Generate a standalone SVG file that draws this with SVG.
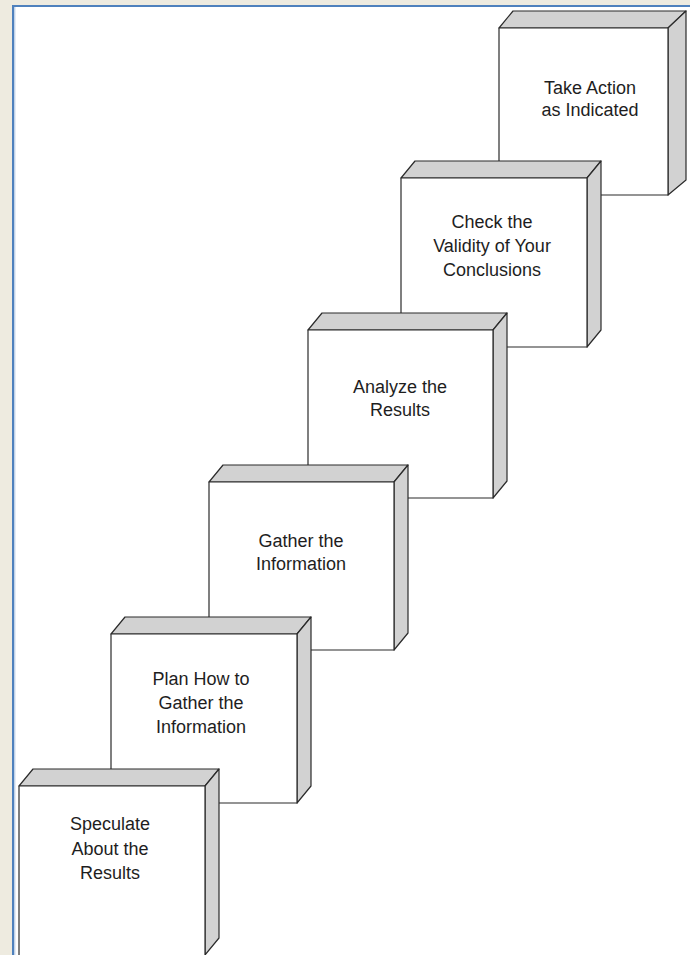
<svg xmlns="http://www.w3.org/2000/svg" width="690" height="955" viewBox="0 0 690 955">
  <style>
    .front { fill: #ffffff; stroke: #2b2b2b; stroke-width: 1.2; stroke-linejoin: round; }
    .side { fill: #d2d2d2; stroke: #2b2b2b; stroke-width: 1.2; stroke-linejoin: round; }
    .label { font-family: "Liberation Sans", Arial, Helvetica, sans-serif; font-size: 18px; fill: #1e1e1e; text-anchor: middle; }
  </style>
  <rect x="0" y="0" width="690" height="955" fill="#eeebe0"/>
  <rect x="13" y="6" width="677" height="949" fill="#ffffff"/>
  <line x1="12" y1="6" x2="690" y2="6" stroke="#4f81bd" stroke-width="2"/>
  <line x1="13" y1="5" x2="13" y2="955" stroke="#4f81bd" stroke-width="2"/>
  <line x1="14.8" y1="7" x2="14.8" y2="955" stroke="#a9c0df" stroke-width="1"/>

  <g id="step6">
    <polygon class="side" points="499,28 513,11 686,11 668,28"/>
    <polygon class="side" points="668,28 686,11 686,180 668,195"/>
    <rect class="front" x="499" y="28" width="169" height="167"/>
    <text class="label" x="590" y="94">Take Action</text>
    <text class="label" x="590" y="116">as Indicated</text>
  </g>

  <g id="step5">
    <polygon class="side" points="401,178 415,161 601,161 587,178"/>
    <polygon class="side" points="587,178 601,161 601,330 587,347"/>
    <rect class="front" x="401" y="178" width="186" height="169"/>
    <text class="label" x="492" y="228">Check the</text>
    <text class="label" x="492" y="252">Validity of Your</text>
    <text class="label" x="492" y="276">Conclusions</text>
  </g>

  <g id="step4">
    <polygon class="side" points="308,330 322,313 507,313 493,330"/>
    <polygon class="side" points="493,330 507,313 507,481 493,498"/>
    <rect class="front" x="308" y="330" width="185" height="168"/>
    <text class="label" x="400" y="393">Analyze the</text>
    <text class="label" x="400" y="416">Results</text>
  </g>

  <g id="step3">
    <polygon class="side" points="209,482 223,465 408,465 394,482"/>
    <polygon class="side" points="394,482 408,465 408,633 394,650"/>
    <rect class="front" x="209" y="482" width="185" height="168"/>
    <text class="label" x="301" y="547">Gather the</text>
    <text class="label" x="301" y="570">Information</text>
  </g>

  <g id="step2">
    <polygon class="side" points="111,634 125,617 311,617 297,634"/>
    <polygon class="side" points="297,634 311,617 311,786 297,803"/>
    <rect class="front" x="111" y="634" width="186" height="169"/>
    <text class="label" x="201" y="685">Plan How to</text>
    <text class="label" x="201" y="709">Gather the</text>
    <text class="label" x="201" y="733">Information</text>
  </g>

  <g id="step1">
    <polygon class="side" points="19,786 33,769 219,769 205,786"/>
    <polygon class="side" points="205,786 219,769 219,938 205,955"/>
    <rect class="front" x="19" y="786" width="186" height="170"/>
    <text class="label" x="110" y="830">Speculate</text>
    <text class="label" x="110" y="855">About the</text>
    <text class="label" x="110" y="879">Results</text>
  </g>
</svg>
